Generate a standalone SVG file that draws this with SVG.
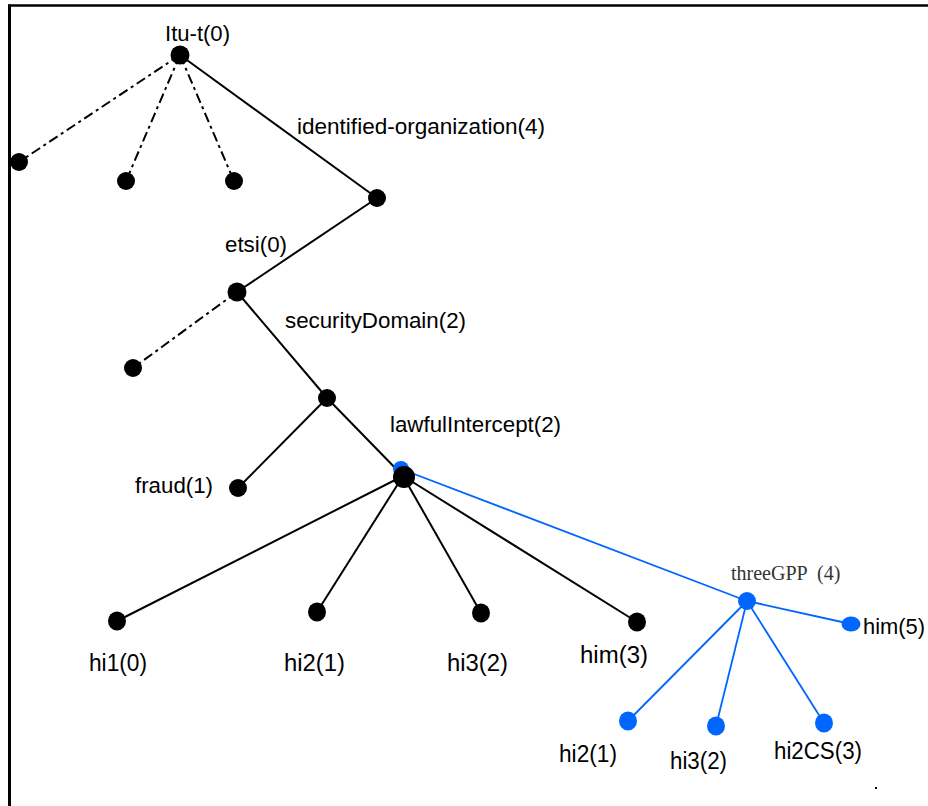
<svg xmlns="http://www.w3.org/2000/svg" width="928" height="806" viewBox="0 0 928 806">
<style>
.lbl{font-family:"Liberation Sans",Arial,sans-serif;font-size:21.5px;fill:#000}
.lbl2{font-family:"Liberation Sans",Arial,sans-serif;font-size:23px;fill:#000}
.ser{font-family:"Liberation Serif","Times New Roman",serif;font-size:20px;fill:#333}
.solid{stroke:#000;stroke-width:2;fill:none}
.dd{stroke:#000;stroke-width:2;fill:none;stroke-dasharray:10 4 3 4}
.blue{stroke:#0066ff;stroke-width:1.8;fill:none}
.bn{fill:#000}
.bb{fill:#0066ff}
</style>
<rect width="928" height="806" fill="#fff"/>
<g id="frame">
<line x1="8" y1="5.5" x2="928" y2="5.5" stroke="#000" stroke-width="2.5"/>
<line x1="9.5" y1="4.5" x2="9.5" y2="806" stroke="#000" stroke-width="3"/>
<rect x="875" y="787" width="2" height="2" fill="#000"/>
</g>
<g id="connectors">
<line class="dd" x1="180" y1="55" x2="19" y2="162"/>
<line class="dd" x1="180" y1="55" x2="126" y2="181"/>
<line class="dd" x1="180" y1="55" x2="234" y2="181"/>
<line class="solid" x1="180" y1="55" x2="377" y2="198"/>
<line class="solid" x1="377" y1="198" x2="237" y2="292"/>
<line class="dd" x1="237" y1="292" x2="133" y2="368"/>
<line class="solid" x1="237" y1="292" x2="327" y2="398"/>
<line class="solid" x1="327" y1="398" x2="238" y2="488"/>
<line class="solid" x1="327" y1="398" x2="403" y2="476"/>
<line class="solid" x1="403" y1="476" x2="117" y2="621"/>
<line class="solid" x1="403" y1="476" x2="317" y2="612"/>
<line class="solid" x1="403" y1="476" x2="481" y2="613"/>
<line class="solid" x1="403" y1="476" x2="637" y2="622"/>
<line class="blue" x1="401" y1="469" x2="747" y2="601"/>
<line class="blue" x1="747" y1="601" x2="851" y2="624"/>
<line class="blue" x1="747" y1="601" x2="628" y2="721"/>
<line class="blue" x1="747" y1="601" x2="716" y2="726"/>
<line class="blue" x1="747" y1="601" x2="824" y2="723"/>
</g>
<g id="itu-t"><circle class="bn" cx="180" cy="55" r="9.5"/><text class="lbl" x="165" y="41" textLength="65" lengthAdjust="spacingAndGlyphs">Itu-t(0)</text></g>
<g id="leaf-a"><circle class="bn" cx="19" cy="162" r="9"/></g>
<g id="leaf-b"><circle class="bn" cx="126" cy="181" r="9"/></g>
<g id="leaf-c"><circle class="bn" cx="234" cy="181" r="9"/></g>
<g id="identified-organization"><circle class="bn" cx="377" cy="198" r="9"/><text class="lbl" x="297" y="134" textLength="248" lengthAdjust="spacingAndGlyphs">identified-organization(4)</text></g>
<g id="etsi"><circle class="bn" cx="237" cy="292" r="9.5"/><text class="lbl" x="225" y="252" textLength="62" lengthAdjust="spacingAndGlyphs">etsi(0)</text></g>
<g id="leaf-d"><circle class="bn" cx="133" cy="368" r="9"/></g>
<g id="securityDomain"><circle class="bn" cx="327" cy="398" r="9"/><text class="lbl" x="285" y="328" textLength="181" lengthAdjust="spacingAndGlyphs">securityDomain(2)</text></g>
<g id="fraud"><circle class="bn" cx="238" cy="488" r="9"/><text class="lbl" x="135" y="493" textLength="78" lengthAdjust="spacingAndGlyphs">fraud(1)</text></g>
<g id="lawfulIntercept"><circle class="bb" cx="401" cy="469" r="8"/><circle class="bn" cx="404" cy="477" r="11"/><text class="lbl" x="390" y="432" textLength="171" lengthAdjust="spacingAndGlyphs">lawfulIntercept(2)</text></g>
<g id="hi1"><ellipse class="bn" cx="117" cy="621" rx="9" ry="9.5"/><text class="lbl2" x="89" y="671" textLength="58" lengthAdjust="spacingAndGlyphs">hi1(0)</text></g>
<g id="hi2"><ellipse class="bn" cx="317" cy="612" rx="9" ry="9.5"/><text class="lbl2" x="284" y="671" textLength="61" lengthAdjust="spacingAndGlyphs">hi2(1)</text></g>
<g id="hi3"><ellipse class="bn" cx="481" cy="613" rx="9" ry="9.5"/><text class="lbl2" x="447" y="671" textLength="61" lengthAdjust="spacingAndGlyphs">hi3(2)</text></g>
<g id="him3"><ellipse class="bn" cx="637" cy="622" rx="9" ry="9.5"/><text class="lbl2" x="580" y="663" textLength="68" lengthAdjust="spacingAndGlyphs">him(3)</text></g>
<g id="threeGPP"><circle class="bb" cx="747" cy="601" r="9"/><text class="ser" y="580"><tspan x="731">threeGPP</tspan><tspan x="817">(4)</tspan></text></g>
<g id="him5"><ellipse class="bb" cx="851" cy="624" rx="9.5" ry="7.5"/><text class="lbl" x="863" y="634" textLength="62" lengthAdjust="spacingAndGlyphs">him(5)</text></g>
<g id="g-hi2"><ellipse class="bb" cx="628" cy="721" rx="9" ry="9.5"/><text class="lbl2" x="559" y="762" textLength="58" lengthAdjust="spacingAndGlyphs">hi2(1)</text></g>
<g id="g-hi3"><ellipse class="bb" cx="716" cy="726" rx="9" ry="9.5"/><text class="lbl2" x="670" y="769" textLength="57" lengthAdjust="spacingAndGlyphs">hi3(2)</text></g>
<g id="g-hi2CS"><ellipse class="bb" cx="824" cy="723" rx="9" ry="9.5"/><text class="lbl2" x="774" y="759" textLength="88" lengthAdjust="spacingAndGlyphs">hi2CS(3)</text></g>
</svg>
